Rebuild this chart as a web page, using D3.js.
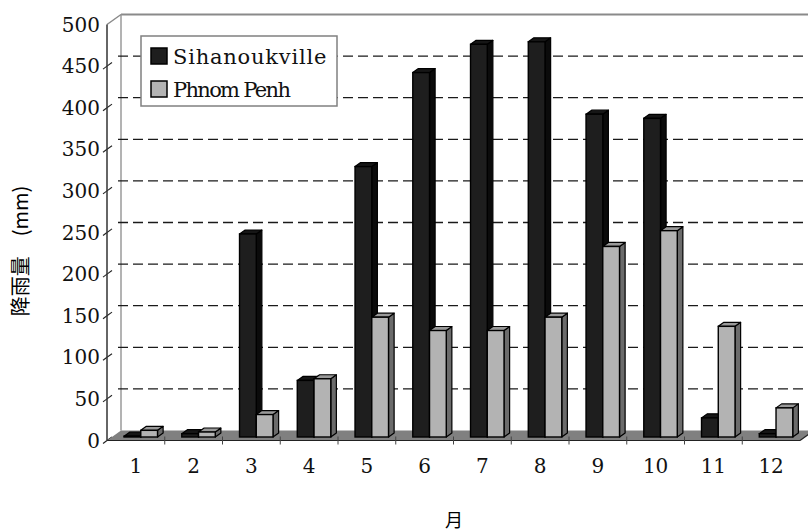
<!DOCTYPE html>
<html>
<head>
<meta charset="utf-8">
<script src="https://cdn.jsdelivr.net/npm/d3@7"></script>
<style>
  body { margin: 0; background: #fff; }
</style>
</head>
<body>
<div id="chart"></div>
<script>
const months = ["1", "2", "3", "4", "5", "6", "7", "8", "9", "10", "11", "12"];
const sihanoukville = [1, 4, 244, 68, 325, 438, 472, 475, 388, 383, 23, 4];
const phnomPenh = [8, 6, 27, 70, 144, 128, 128, 144, 229, 248, 133, 35];
const seriesNames = ["Sihanoukville", "Phnom Penh"];
const yTicks = [0, 50, 100, 150, 200, 250, 300, 350, 400, 450, 500];

const width = 808;
const height = 532;
const DX = 14, DY = 10;   // depth offset of the back wall

const svg = d3.select("#chart")
  .append("svg")
  .attr("width", width)
  .attr("height", height);

const x = d3.scaleBand()
  .domain(months)
  .range([107, 800]);

// front plane value scale
const y = d3.scaleLinear()
  .domain([0, 500])
  .range([440.5, 24.5]);

const serif = "'DejaVu Serif', serif";

// back wall outline
svg.append("line")
  .attr("x1", 121).attr("y1", y(500) - DY)
  .attr("x2", width + 10).attr("y2", y(500) - DY)
  .attr("stroke", "#8a8a8a").attr("stroke-width", 2);
svg.append("line")
  .attr("x1", 121).attr("y1", y(500) - DY)
  .attr("x2", 121).attr("y2", y(0) - DY)
  .attr("stroke", "#9a9a9a").attr("stroke-width", 1.5);
svg.append("line")
  .attr("x1", 107).attr("y1", y(500))
  .attr("x2", 121).attr("y2", y(500) - DY)
  .attr("stroke", "#8a8a8a").attr("stroke-width", 1.5);

// dashed gridlines on the back wall
svg.selectAll(".grid")
  .data(yTicks.filter(d => d > 0 && d < 500))
  .enter().append("line")
  .attr("class", "grid")
  .attr("x1", 118).attr("x2", width + 10)
  .attr("y1", d => y(d) - DY).attr("y2", d => y(d) - DY)
  .attr("stroke", "#1a1a1a")
  .attr("stroke-width", 1.3)
  .attr("stroke-dasharray", "10,5");

// short piece of the gridline on the side wall + tick
const ticks = svg.selectAll(".tick")
  .data(yTicks.filter(d => d < 500))
  .enter().append("g")
  .attr("class", "tick");
ticks.append("line")
  .attr("x1", 107).attr("y1", d => y(d))
  .attr("x2", 112).attr("y2", d => y(d) - 3.6)
  .attr("stroke", "#222").attr("stroke-width", 1.1);
ticks.append("line")
  .attr("x1", 107).attr("y1", d => y(d))
  .attr("x2", 103).attr("y2", d => y(d) + 3)
  .attr("stroke", "#222").attr("stroke-width", 1.1);

// floor
svg.append("polygon")
  .attr("points", [[107, y(0)], [800, y(0)], [800 + DX, y(0) - DY], [121, y(0) - DY]].join(" "))
  .attr("fill", "#808080");
svg.append("line")
  .attr("x1", 107).attr("y1", y(0)).attr("x2", 800).attr("y2", y(0))
  .attr("stroke", "#222").attr("stroke-width", 1.2);
svg.append("line")
  .attr("x1", 800).attr("y1", y(0)).attr("x2", 800 + DX).attr("y2", y(0) - DY)
  .attr("stroke", "#222").attr("stroke-width", 1.2);

// category dividers on floor front
svg.selectAll(".divider")
  .data(months.slice(1))
  .enter().append("line")
  .attr("class", "divider")
  .attr("x1", d => x(d)).attr("x2", d => x(d))
  .attr("y1", y(0) - 4).attr("y2", y(0) + 4)
  .attr("stroke", "#444").attr("stroke-width", 1);

// front axis line
svg.append("line")
  .attr("x1", 107).attr("y1", y(500))
  .attr("x2", 107).attr("y2", y(0))
  .attr("stroke", "#333").attr("stroke-width", 1.5);

// 3d bars
const z0 = 0.35, z1 = 0.75;
const barW = x.bandwidth() * 0.29;
const faces = [
  { front: "#1e1e1e", side: "#0b0b0b", top: "#161616" },
  { front: "#b3b3b3", side: "#6b6b6b", top: "#999999" }
];

const barData = [];
months.forEach((m, i) => {
  [sihanoukville[i], phnomPenh[i]].forEach((v, s) => {
    barData.push({ month: m, series: s, value: v });
  });
});

const bars = svg.selectAll(".bar")
  .data(barData)
  .enter().append("g")
  .attr("class", "bar");

function bx(d) {
  return x(d.month) + x.bandwidth() / 2 - barW + d.series * barW;
}

bars.append("polygon")   // side face
  .attr("points", d => {
    const xr = bx(d) + barW;
    return [
      [xr + z0 * DX, y(0) - z0 * DY], [xr + z1 * DX, y(0) - z1 * DY],
      [xr + z1 * DX, y(d.value) - z1 * DY], [xr + z0 * DX, y(d.value) - z0 * DY]
    ].join(" ");
  })
  .attr("fill", d => faces[d.series].side)
  .attr("stroke", "#000").attr("stroke-width", 1.2).attr("stroke-linejoin", "round");

bars.append("polygon")   // top face
  .attr("points", d => {
    const xl = bx(d), xr = xl + barW, yt = y(d.value);
    return [
      [xl + z0 * DX, yt - z0 * DY], [xr + z0 * DX, yt - z0 * DY],
      [xr + z1 * DX, yt - z1 * DY], [xl + z1 * DX, yt - z1 * DY]
    ].join(" ");
  })
  .attr("fill", d => faces[d.series].top)
  .attr("stroke", "#000").attr("stroke-width", 1.2).attr("stroke-linejoin", "round");

bars.append("rect")      // front face
  .attr("x", d => bx(d) + z0 * DX)
  .attr("y", d => y(d.value) - z0 * DY)
  .attr("width", barW)
  .attr("height", d => y(0) - y(d.value))
  .attr("fill", d => faces[d.series].front)
  .attr("stroke", "#000").attr("stroke-width", 1.4);

// y tick labels
svg.selectAll(".ylabel")
  .data(yTicks)
  .enter().append("text")
  .attr("class", "ylabel")
  .attr("x", 100)
  .attr("y", d => y(d) + 7)
  .attr("text-anchor", "end")
  .style("font", "20px " + serif)
  .style("fill", "#111")
  .text(d => d);

// month labels
svg.selectAll(".xlabel")
  .data(months)
  .enter().append("text")
  .attr("class", "xlabel")
  .attr("x", d => x(d) + x.bandwidth() / 2)
  .attr("y", 473)
  .attr("text-anchor", "middle")
  .style("font", "20px " + serif)
  .style("fill", "#111")
  .text(d => d);

// axis titles
svg.append("text")
  .attr("x", 454)
  .attr("y", 527)
  .attr("text-anchor", "middle")
  .style("font", "18px 'Noto Sans CJK SC', sans-serif")
  .style("fill", "#000")
  .text("月");

svg.append("text")
  .attr("transform", "translate(28, 251) rotate(-90)")
  .attr("text-anchor", "middle")
  .style("font", "20px 'Noto Sans CJK SC', sans-serif")
  .style("fill", "#000")
  .text("降雨量　(mm)");

// legend
const legend = svg.append("g");
legend.append("rect")
  .attr("x", 141).attr("y", 36)
  .attr("width", 196).attr("height", 70)
  .attr("fill", "#fff")
  .attr("stroke", "#808080").attr("stroke-width", 1.5);

const legendItems = legend.selectAll(".legend")
  .data(seriesNames)
  .enter().append("g")
  .attr("class", "legend")
  .attr("transform", (d, i) => `translate(0, ${i * 33})`);

legendItems.append("rect")
  .attr("x", 151).attr("y", 48)
  .attr("width", 16).attr("height", 16)
  .attr("fill", (d, i) => faces[i].front)
  .attr("stroke", "#000").attr("stroke-width", 1.5);

legendItems.append("text")
  .attr("x", 173)
  .attr("y", 64)
  .attr("textLength", d => d.length * 11.8)
  .attr("lengthAdjust", "spacing")
  .style("font", "21px " + serif)
  .style("fill", "#111")
  .text(d => d);
</script>
</body>
</html>
